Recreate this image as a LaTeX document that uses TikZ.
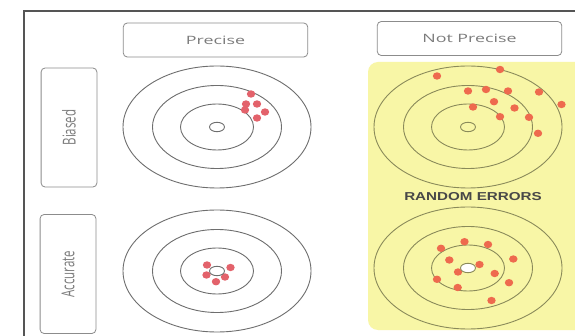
\documentclass[tikz,border=0pt]{standalone}
\usepackage{fontspec}
\setsansfont{Open Sans}
\newfontfamily\capfont{Liberation Sans}
\usetikzlibrary{positioning}
\definecolor{frameCol}{HTML}{555555}
\definecolor{boxCol}{HTML}{8C8C8C}
\definecolor{txtCol}{HTML}{7C7C7C}
\definecolor{ringCol}{HTML}{6E6E6E}
\definecolor{ringYel}{HTML}{8A8A5A}
\definecolor{bandCol}{HTML}{F8F6A6}
\definecolor{hitCol}{HTML}{E3626B}
\definecolor{hitOra}{HTML}{EE6A4E}
\definecolor{capCol}{HTML}{484848}
\newcommand{\rings}[2]{%
  \draw[#2] (#1) ellipse [x radius=94, y radius=61];
  \draw[#2] (#1) ellipse [x radius=64.5, y radius=41.5];
  \draw[#2] (#1) ellipse [x radius=36.5, y radius=23];}
\newcommand{\bull}[3]{\filldraw[#2, fill=#3] (#1) ellipse [x radius=7.5, y radius=4.7];}
\tikzset{
  hdr/.style={draw=boxCol, line width=0.8pt, rounded corners=4pt, minimum width=119pt,
              minimum height=34pt, inner sep=0pt, text=txtCol,
              font=\sffamily\fontsize{11.5}{12}\selectfont, xscale=1.55, transform shape},
  side/.style={hdr, rotate=90, minimum width=119pt, minimum height=36pt},
  ring/.style={draw=ringCol, line width=0.9pt},
  ringy/.style={draw=ringYel, line width=0.9pt},
  hit/.style={fill=hitCol},
  hity/.style={fill=hitOra},
  caption/.style={font=\capfont\bfseries\fontsize{11.5}{12}\selectfont, text=capCol,
                  inner sep=0pt, xscale=1.32, transform shape},
}

\begin{document}
\begin{tikzpicture}[x=1pt, y=-1pt]
  \useasboundingbox (0,0) rectangle (575,336);
  \clip (0,0) rectangle (575,336);
  % frame and yellow band
  \fill[white] (0,0) rectangle (575,336);
  \draw[frameCol, line width=2.6pt] (24,400) -- (24,11) -- (640,11);
  \fill[bandCol, rounded corners=10pt] (368,62) rectangle (620,330);

  % headers
  \node[hdr] (prec) at (215.5,40) {Precise};
  \node[hdr] (nprec) at (469.5,38.5) {Not Precise};
  \node[side] (bias) at (69,127.5) {Biased};
  \node[side] (accu) at (68,274) {Accurate};
  \node[caption] (rnd) at (473,197) {RANDOM ERRORS};

  % targets
  \coordinate (pb) at (217,127);
  \coordinate (pa) at (217,271);
  \coordinate (nb) at (468,127);
  \coordinate (na) at (468,268);
  \rings{pb}{ring}
  \rings{pa}{ring}
  \rings{nb}{ringy}
  \rings{na}{ringy}

  % hits
  \foreach \x/\y in {251/94, 246/104, 257/104, 245/110, 265/112, 257/118}
    \path[hit] (\x,\y) ellipse [x radius=4.2, y radius=3.7];
  \foreach \x/\y in {207/265, 230.5/267.5, 216/270.7, 206.5/275, 225/277, 216/281.7}
    \path[hit] (\x,\y) ellipse [x radius=4.2, y radius=3.7];
  \foreach \x/\y in {437/76, 500/69.5, 468/91, 486/89.5, 508/91, 539/92, 561.5/104.5,
                     494/101.7, 473/107, 514.5/108, 500/116.7, 529/117.3, 538/133.3}
    \path[hity] (\x,\y) ellipse [x radius=4.2, y radius=3.7];
  \foreach \x/\y in {441/248.3, 464.5/241.7, 488/244.5, 449.3/260, 513.3/259, 479.5/264.5,
                     458/272, 494.7/273.5, 437/279.3, 509/282.7, 457.7/287.5, 491.5/300.5}
    \path[hity] (\x,\y) ellipse [x radius=4.2, y radius=3.7];

  \bull{pb}{ring}{white}
  \bull{pa}{ring}{white}
  \bull{nb}{ringy}{bandCol}
  \bull{na}{ringy}{white}
\end{tikzpicture}
\end{document}
